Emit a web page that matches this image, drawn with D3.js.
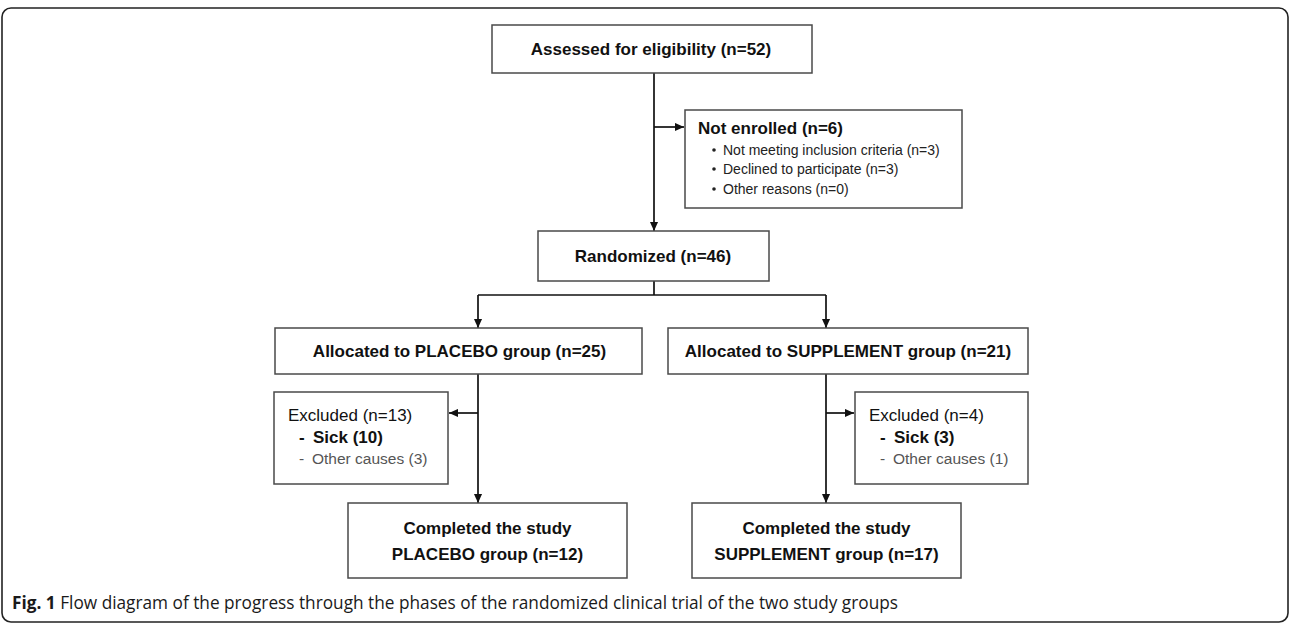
<!DOCTYPE html>
<html>
<head>
<meta charset="utf-8">
<script src="https://cdn.jsdelivr.net/npm/d3@7"></script>
<style>
  html, body { margin: 0; padding: 0; background: #fff; }
  svg { display: block; }
</style>
</head>
<body>
<svg id="chart" width="1290" height="624"></svg>
<script>
// ---------- data ----------
const assessedCount = 52;
const notEnrolledCount = 6;
const notEnrolledReasons = ["Not meeting inclusion criteria", "Declined to participate", "Other reasons"];
const notEnrolledCounts = [3, 3, 0];
const randomizedCount = 46;
const groups = ["PLACEBO", "SUPPLEMENT"];
const allocatedCounts = [25, 21];
const excludedCounts = [13, 4];
const sickCounts = [10, 3];
const otherCauseCounts = [3, 1];
const completedCounts = [12, 17];
const captionBold = "Fig. 1";
const captionText = " Flow diagram of the progress through the phases of the randomized clinical trial of the two study groups";

// ---------- layout ----------
const svg = d3.select("#chart");
const FONT = "'Liberation Sans', Arial, sans-serif";
const boxStroke = "#4a4a4a";
const lineColor = "#111";

// column scale for the two study arms (stem x positions)
const armX = d3.scalePoint().domain(groups).range([478, 826]);
const centerX = 654;

const defs = svg.append("defs");
defs.append("marker")
  .attr("id", "arrow")
  .attr("markerUnits", "userSpaceOnUse")
  .attr("viewBox", "0 0 10 10")
  .attr("refX", 10).attr("refY", 5)
  .attr("markerWidth", 9).attr("markerHeight", 9)
  .attr("orient", "auto")
  .append("path").attr("d", "M0,0.5 L10,5 L0,9.5 Z").attr("fill", lineColor);

// outer frame
svg.append("rect")
  .attr("x", 2).attr("y", 8).attr("width", 1286).attr("height", 614)
  .attr("rx", 9).attr("ry", 9)
  .attr("fill", "none").attr("stroke", "#222").attr("stroke-width", 1.6);

function box(x0, y0, x1, y1) {
  svg.append("rect")
    .attr("x", x0).attr("y", y0).attr("width", x1 - x0).attr("height", y1 - y0)
    .attr("fill", "#fff").attr("stroke", boxStroke).attr("stroke-width", 1.5);
}
function line(x1, y1, x2, y2, arrow) {
  const l = svg.append("line")
    .attr("x1", x1).attr("y1", y1).attr("x2", x2).attr("y2", y2)
    .attr("stroke", lineColor).attr("stroke-width", 1.7);
  if (arrow) l.attr("marker-end", "url(#arrow)");
  return l;
}
function label(x, yc, txt, opts = {}) {
  const size = opts.size || 17;
  return svg.append("text")
    .attr("x", x).attr("y", yc + size * 0.35)
    .attr("text-anchor", opts.anchor || "middle")
    .attr("font-family", FONT)
    .attr("font-size", size)
    .attr("font-weight", opts.bold ? "bold" : "normal")
    .attr("fill", opts.fill || "#111")
    .text(txt);
}

// ---------- connectors ----------
line(centerX, 73, centerX, 231, true);
line(centerX, 127, 684, 127, true);
line(centerX, 281, centerX, 295, false);
line(armX(groups[0]), 295, armX(groups[1]), 295, false);
groups.forEach(g => line(armX(g), 295, armX(g), 328, true));
groups.forEach(g => line(armX(g), 374, armX(g), 503, true));
line(armX(groups[0]), 413, 449, 413, true);
line(armX(groups[1]), 413, 854, 413, true);

// ---------- boxes ----------
// Assessed
box(492, 25, 812, 73);
label(651, 49, `Assessed for eligibility (n=${assessedCount})`, {bold: true});

// Not enrolled
box(685, 110, 962, 208);
label(698, 128, `Not enrolled (n=${notEnrolledCount})`, {bold: true, anchor: "start"});
const bulletY = [150, 169, 189];
notEnrolledReasons.forEach((r, i) => {
  svg.append("circle").attr("cx", 714).attr("cy", bulletY[i]).attr("r", 1.8).attr("fill", "#222");
  label(723, bulletY[i], `${r} (n=${notEnrolledCounts[i]})`, {anchor: "start", size: 14, fill: "#222"});
});

// Randomized
box(538, 231, 769, 281);
label(653, 256, `Randomized (n=${randomizedCount})`, {bold: true});

// Allocated
const allocBoxes = [[275, 642], [668, 1028]];
groups.forEach((g, i) => {
  const [a, b] = allocBoxes[i];
  box(a, 328, b, 374);
  label((a + b) / 2 + (i === 0 ? 1 : 0), 351, `Allocated to ${g} group (n=${allocatedCounts[i]})`, {bold: true});
});

// Excluded
const exclBoxes = [[274, 448], [855, 1028]];
groups.forEach((g, i) => {
  const [a, b] = exclBoxes[i];
  box(a, 392, b, 484);
  const tx = a + 14;
  label(tx, 415, `Excluded (n=${excludedCounts[i]})`, {anchor: "start"});
  label(tx + 11, 437, "-", {anchor: "start", bold: true});
  label(tx + 25, 437, `Sick (${sickCounts[i]})`, {anchor: "start", bold: true});
  label(tx + 11, 459, "-", {anchor: "start", size: 15.5, fill: "#555"});
  label(tx + 24, 459, `Other causes (${otherCauseCounts[i]})`, {anchor: "start", size: 15.5, fill: "#555"});
});

// Completed
const compBoxes = [[348, 627], [692, 961]];
groups.forEach((g, i) => {
  const [a, b] = compBoxes[i];
  box(a, 503, b, 578);
  label((a + b) / 2, 528, "Completed the study", {bold: true});
  label((a + b) / 2, 554, `${g} group (n=${completedCounts[i]})`, {bold: true});
});

// Caption
const cap = svg.append("text")
  .attr("x", 12).attr("y", 609)
  .attr("font-family", "'Open Sans', 'Liberation Sans', sans-serif")
  .attr("font-size", 18.5)
  .attr("fill", "#1a1a1a")
  .attr("textLength", 886)
  .attr("lengthAdjust", "spacingAndGlyphs");
cap.append("tspan").attr("font-weight", "bold").text(captionBold);
cap.append("tspan").text(captionText);
</script>
</body>
</html>
